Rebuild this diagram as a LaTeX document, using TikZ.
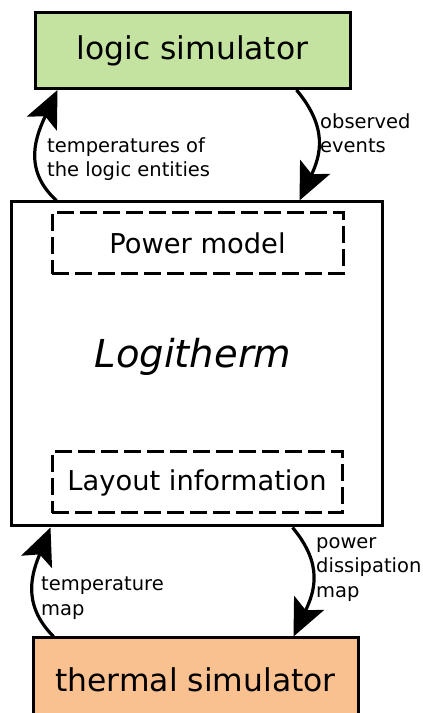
\documentclass[tikz,border=0pt]{standalone}
\usepackage{fontspec}
\setmainfont{DejaVu Sans}
\usepackage{tikz}
\usetikzlibrary{calc}
\usetikzlibrary{arrows.meta}
\definecolor{simgreen}{RGB}{197,227,160}
\definecolor{simorange}{RGB}{249,192,144}
\tikzset{
  simbox/.style = {draw=black, line width=3pt, inner sep=0pt,
    font=\fontsize{31.4}{36}\selectfont},% boites des simulateurs
  mainbox/.style = {draw=black, line width=3pt, inner sep=0pt},
  partbox/.style = {draw=black, line width=3pt, dash pattern=on 17pt off 6pt,
    inner sep=0pt, font=\fontsize{27.3}{32}\selectfont},% blocs internes
  lbl/.style = {align=left, inner sep=0pt, anchor=north west,
    font=\fontsize{19.5}{24.5}\selectfont},
  flow/.style = {line width=3.2pt, -{Stealth[length=37pt,width=33pt,inset=8pt]}},
}
\begin{document}
\begin{tikzpicture}[x=1pt,y=1pt]
\useasboundingbox (0,0) rectangle (423,713);
\node [simbox, fill=simgreen, minimum width=315, minimum height=76] (logic) at (192.5,662.5) {logic simulator};
\node [mainbox, minimum width=371, minimum height=324] (main) at (196.5,349) {};
\node [font=\fontsize{38.5}{44}\selectfont\itshape] (name) at (193,356) {Logitherm};
\node [partbox, minimum width=291, minimum height=61] (power) at (197.5,469.5) {Power model};
\node [partbox, minimum width=290, minimum height=61] (layout) at (197,230.5) {Layout information};
\node [simbox, fill=simorange, minimum width=325, minimum height=84] (thermal) at (195.5,33) {thermal simulator};
% boucle logique
\draw [flow] ([xshift=47]main.north west) to[out=138,in=-115,looseness=1.1] ([xshift=24]logic.south west);
\draw [flow] ([xshift=-55]logic.south east) to[out=-50,in=65,looseness=1.15] ([xshift=-84]main.north east);
\node [lbl] (tlog) at (47,713-137) {temperatures of\\the logic entities};
\node [lbl] (obs) at (320,713-113) {observed\\events};
% boucle thermique
\draw [flow] ([xshift=22]thermal.north west) to[out=135,in=-112,looseness=1.1] ([xshift=41]main.south west);
\draw [flow] ([xshift=-91]main.south east) to[out=-50,in=65,looseness=1.15] ([xshift=-66]thermal.north east);
\node [lbl] (tmap) at (41,713-577) {temperature\\map};
\node [lbl] (pmap) at (316,713-537) {power\\dissipation\\map};
\end{tikzpicture}
\end{document}
